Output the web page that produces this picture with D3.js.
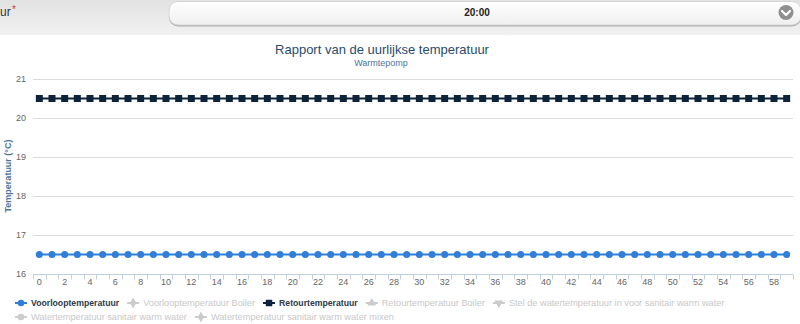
<!DOCTYPE html>
<html>
<head>
<meta charset="utf-8">
<script src="https://cdnjs.cloudflare.com/ajax/libs/d3/7.8.5/d3.min.js"></script>
<style>
  html, body { margin: 0; padding: 0; background: #fff; }
  svg { display: block; font-family: "Liberation Sans", Arial, sans-serif; }
</style>
</head>
<body>
<svg id="chart" width="800" height="324"></svg>
<script>
// Hourly report: minutes 0..59 of the selected hour
const categories = [
  0, 1, 2, 3, 4, 5, 6, 7, 8, 9, 10, 11, 12, 13, 14, 15, 16, 17, 18, 19,
  20, 21, 22, 23, 24, 25, 26, 27, 28, 29, 30, 31, 32, 33, 34, 35, 36, 37, 38, 39,
  40, 41, 42, 43, 44, 45, 46, 47, 48, 49, 50, 51, 52, 53, 54, 55, 56, 57, 58, 59
];

const voorloopValues = [
  16.5, 16.5, 16.5, 16.5, 16.5, 16.5, 16.5, 16.5, 16.5, 16.5,
  16.5, 16.5, 16.5, 16.5, 16.5, 16.5, 16.5, 16.5, 16.5, 16.5,
  16.5, 16.5, 16.5, 16.5, 16.5, 16.5, 16.5, 16.5, 16.5, 16.5,
  16.5, 16.5, 16.5, 16.5, 16.5, 16.5, 16.5, 16.5, 16.5, 16.5,
  16.5, 16.5, 16.5, 16.5, 16.5, 16.5, 16.5, 16.5, 16.5, 16.5,
  16.5, 16.5, 16.5, 16.5, 16.5, 16.5, 16.5, 16.5, 16.5, 16.5
];

const retourValues = [
  20.5, 20.5, 20.5, 20.5, 20.5, 20.5, 20.5, 20.5, 20.5, 20.5,
  20.5, 20.5, 20.5, 20.5, 20.5, 20.5, 20.5, 20.5, 20.5, 20.5,
  20.5, 20.5, 20.5, 20.5, 20.5, 20.5, 20.5, 20.5, 20.5, 20.5,
  20.5, 20.5, 20.5, 20.5, 20.5, 20.5, 20.5, 20.5, 20.5, 20.5,
  20.5, 20.5, 20.5, 20.5, 20.5, 20.5, 20.5, 20.5, 20.5, 20.5,
  20.5, 20.5, 20.5, 20.5, 20.5, 20.5, 20.5, 20.5, 20.5, 20.5
];

const yTicks = [16, 17, 18, 19, 20, 21];

// Legend entries; only the first and third series are visible
const legendNames = [
  "Voorlooptemperatuur",
  "Voorlooptemperatuur Boiler",
  "Retourtemperatuur",
  "Retourtemperatuur Boiler",
  "Stel de watertemperatuur in voor sanitair warm water",
  "Watertemperatuur sanitair warm water",
  "Watertemperatuur sanitair warm water mixen"
];
const legendVisible = [true, false, true, false, false, false, false];
const legendSymbols = ["circle", "diamond", "square", "triangle", "triangle-down", "circle", "diamond"];

const selectedHour = "20:00";

const COLORS = { voorloop: "#2f7ed8", retour: "#0d233a", hidden: "#cccccc" };

const svg = d3.select("#chart");
const defs = svg.append("defs");

// ---------- header bar with hour selector ----------
const hdrGrad = defs.append("linearGradient").attr("id", "hdrGrad").attr("x1", 0).attr("y1", 0).attr("x2", 0).attr("y2", 1);
hdrGrad.append("stop").attr("offset", "0%").attr("stop-color", "#e2e2e2");
hdrGrad.append("stop").attr("offset", "100%").attr("stop-color", "#f1f1f1");
svg.append("rect").attr("x", 0).attr("y", 0).attr("width", 800).attr("height", 35).attr("fill", "url(#hdrGrad)");

svg.append("text").attr("x", 0).attr("y", 16).attr("font-size", 12).attr("fill", "#333").text("ur");
svg.append("text").attr("x", 12).attr("y", 13).attr("font-size", 10).attr("fill", "#d04040").text("*");

const selGrad = defs.append("linearGradient").attr("id", "selGrad").attr("x1", 0).attr("y1", 0).attr("x2", 0).attr("y2", 1);
selGrad.append("stop").attr("offset", "0%").attr("stop-color", "#ffffff");
selGrad.append("stop").attr("offset", "100%").attr("stop-color", "#efefef");
svg.append("rect").attr("x", 169).attr("y", 1.5).attr("width", 632).attr("height", 24).attr("rx", 9)
  .attr("fill", "#b0b0b0").attr("transform", "translate(0,1)");
svg.append("rect").attr("x", 169).attr("y", 1.5).attr("width", 632).attr("height", 23.5).attr("rx", 9)
  .attr("fill", "url(#selGrad)").attr("stroke", "#d0d0d0").attr("stroke-width", 0.8);
svg.append("text").attr("x", 477).attr("y", 16).attr("text-anchor", "middle")
  .attr("font-size", 10).attr("font-weight", "bold").attr("fill", "#222").text(selectedHour);
svg.append("circle").attr("cx", 786).attr("cy", 12.5).attr("r", 7.5).attr("fill", "#8f8f8f");
svg.append("path").attr("d", "M782,11 L786,15 L790,11").attr("fill", "none")
  .attr("stroke", "#fff").attr("stroke-width", 2.2).attr("stroke-linecap", "round").attr("stroke-linejoin", "round");

// ---------- chart ----------
const plot = { left: 33, right: 793, top: 79, bottom: 274 };

const x = d3.scaleBand().domain(categories).range([plot.left, plot.right]).paddingInner(0).paddingOuter(0);
const y = d3.scaleLinear().domain([16, 21]).range([plot.bottom, plot.top]);
const cx = d => x(d) + x.bandwidth() / 2;

// titles
svg.append("text").attr("x", 382).attr("y", 54).attr("text-anchor", "middle")
  .attr("font-size", 13).attr("fill", "#274b6d").text("Rapport van de uurlijkse temperatuur");
svg.append("text").attr("x", 381).attr("y", 66).attr("text-anchor", "middle")
  .attr("font-size", 9).attr("fill", "#4d759e").text("Warmtepomp");

// horizontal grid lines
svg.append("g").selectAll("line").data(yTicks.filter(t => t !== 16)).join("line")
  .attr("x1", plot.left).attr("x2", plot.right)
  .attr("y1", d => Math.round(y(d)) + 0.5).attr("y2", d => Math.round(y(d)) + 0.5)
  .attr("stroke", "#dcdcdc").attr("stroke-width", 1);

// y axis labels
const yAxis = d3.axisLeft(y).tickValues(yTicks).tickFormat(d3.format("d")).tickSize(0).tickPadding(7);
const gy = svg.append("g").attr("transform", `translate(${plot.left},0)`).call(yAxis);
gy.select(".domain").remove();
gy.selectAll("text").attr("font-size", 9).attr("fill", "#666").attr("font-family", "Liberation Sans, Arial, sans-serif");

// y axis title
svg.append("text").attr("transform", `translate(11,176) rotate(-90)`).attr("text-anchor", "middle")
  .attr("font-size", 9).attr("font-weight", "bold").attr("fill", "#4d759e").text("Temperatuur (°C)");

// x axis: ticks on category boundaries, labels on every other category
const xAxisY = plot.bottom + 0.5;
const gx = svg.append("g");
gx.append("line").attr("x1", plot.left).attr("x2", plot.right).attr("y1", xAxisY).attr("y2", xAxisY)
  .attr("stroke", "#c0d0e0").attr("stroke-width", 1);
const boundaries = categories.map(c => x(c)).concat([x(categories[categories.length - 1]) + x.bandwidth()]);
gx.selectAll("line.tick").data(boundaries).join("line").attr("class", "tick")
  .attr("x1", d => Math.round(d) + 0.5).attr("x2", d => Math.round(d) + 0.5)
  .attr("y1", xAxisY).attr("y2", xAxisY + 5)
  .attr("stroke", "#c0d0e0").attr("stroke-width", 1);
gx.selectAll("text").data(categories.filter(c => c % 2 === 0)).join("text")
  .attr("x", d => cx(d)).attr("y", 285).attr("text-anchor", "middle")
  .attr("font-size", 9).attr("fill", "#666").text(d => d);

// series
const line = d3.line().x((d, i) => cx(categories[i])).y(d => y(d));

svg.append("path").datum(voorloopValues).attr("d", line).attr("fill", "none")
  .attr("stroke", COLORS.voorloop).attr("stroke-width", 2);
svg.append("g").selectAll("circle").data(voorloopValues).join("circle")
  .attr("cx", (d, i) => cx(categories[i])).attr("cy", d => y(d)).attr("r", 3.5)
  .attr("fill", COLORS.voorloop);

svg.append("path").datum(retourValues).attr("d", line).attr("fill", "none")
  .attr("stroke", COLORS.retour).attr("stroke-width", 2);
svg.append("g").selectAll("rect").data(retourValues).join("rect")
  .attr("x", (d, i) => cx(categories[i]) - 3.5).attr("y", d => y(d) - 3.5)
  .attr("width", 7).attr("height", 7).attr("fill", COLORS.retour);

// ---------- legend ----------
function symbolPath(kind, size) {
  const map = {
    "circle": d3.symbolCircle, "square": d3.symbolSquare, "diamond": d3.symbolDiamond,
    "triangle": d3.symbolTriangle, "triangle-down": d3.symbolTriangle
  };
  return d3.symbol().type(map[kind]).size(size)();
}

const legendRows = [[0, 1, 2, 3, 4], [5, 6]];
const legend = svg.append("g");
legendRows.forEach((row, r) => {
  let lx = 15;
  const ly = 303 + r * 14;
  row.forEach(i => {
    const visible = legendVisible[i];
    const color = !visible ? COLORS.hidden : (i === 0 ? COLORS.voorloop : COLORS.retour);
    const item = legend.append("g").attr("transform", `translate(${lx},${ly})`);
    item.append("line").attr("x1", 0).attr("x2", 12).attr("y1", 0).attr("y2", 0)
      .attr("stroke", color).attr("stroke-width", 2);
    item.append("path").attr("d", symbolPath(legendSymbols[i], legendSymbols[i] === "square" ? 42 : 34))
      .attr("transform", `translate(6,0)${legendSymbols[i] === "triangle-down" ? " rotate(180)" : ""}`)
      .attr("fill", color);
    const t = item.append("text").attr("x", 16).attr("y", 3.3)
      .attr("font-size", visible ? 8.7 : 9.2)
      .attr("font-weight", visible ? "bold" : "normal")
      .attr("fill", visible ? "#2b3a4b" : "#c8c8c8").text(legendNames[i]);
    lx += 16 + t.node().getComputedTextLength() + 8;
  });
});
</script>
</body>
</html>
